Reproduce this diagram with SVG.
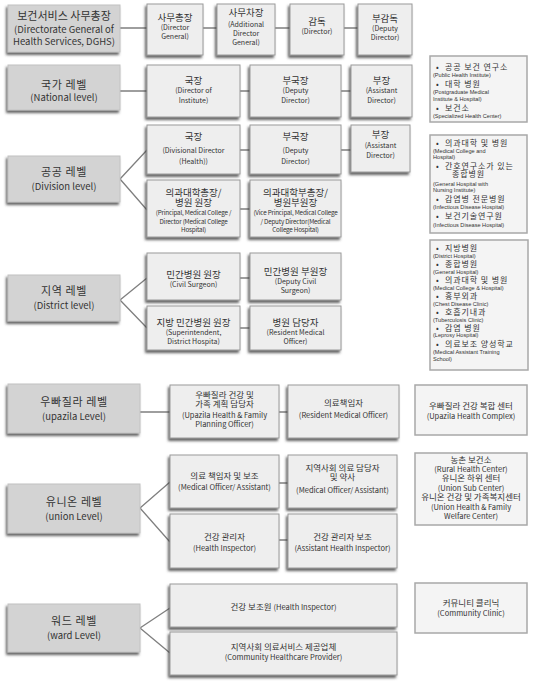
<svg xmlns="http://www.w3.org/2000/svg" width="534" height="681" viewBox="0 0 534 681">
<defs>
<filter id="sh" x="-10%" y="-10%" width="120%" height="130%">
<feDropShadow dx="-1.5" dy="2.5" stdDeviation="1" flood-color="#3a3a3a" flood-opacity="0.8"/>
</filter>
<style>
.lv{fill:#d3d3d3;stroke:#c2c2c2;stroke-width:1;filter:url(#sh)}
.bx{fill:#eeeeee;stroke:#9a9a9a;stroke-width:1;filter:url(#sh)}
.ib{fill:#f4f4f4;stroke:#a8a8a8;stroke-width:1.5}
text{font-family:"Noto Sans CJK KR","Noto Sans",sans-serif;fill:#333;text-anchor:middle}
.L{text-anchor:start}
.lk{font-size:11px;letter-spacing:0.6px}
.le{font-size:9.5px}
.k10{font-size:9.5px}
.k9{font-size:8.5px}
.e7{font-size:7px}
.e65{font-size:6.3px;letter-spacing:-0.2px}
.e75{font-size:7.5px}
.ik{font-size:8px;letter-spacing:0.9px}
.ie{font-family:"Liberation Sans",Arial,sans-serif;font-size:5.6px}
.cn{stroke:#7f7f7f;stroke-width:1.3;fill:none}
</style>
</defs>
<g id="connectors">
<path class="cn" d="M120 28H147M203 28H217M275 28H290M344 28H358"/>
<path class="cn" d="M120 91H147M240 91H250M341 91H351"/>
<path class="cn" d="M120 179L147 150M120 179L147 210M240 150H250M341 150H351M240 209H250"/>
<path class="cn" d="M120 300L147 278M120 300L147 328M240 278H250M240 328H250"/>
<path class="cn" d="M140 412H170M279 412H288"/>
<path class="cn" d="M140 508L170 482M140 508L170 542M279 483H288M279 540H288"/>
<path class="cn" d="M140 628L170 608M140 628L170 653"/>
</g>
<g id="dghs"><rect class="lv" x="8" y="5" width="112" height="47"/>
<text class="lk" x="64" y="20" style="letter-spacing:0">보건서비스 사무총장</text>
<text class="le" x="64" y="33">(Directorate General of</text>
<text class="le" x="64" y="45">Health Services, DGHS)</text></g>
<g id="dg"><rect class="bx" x="147" y="4" width="56" height="51"/>
<text class="k10" x="175" y="21">사무총장</text><text class="e7" x="175" y="30">(Director</text><text class="e7" x="175" y="39">General)</text></g>
<g id="adg"><rect class="bx" x="217" y="4" width="58" height="51"/>
<text class="k10" x="246" y="16">사무차장</text><text class="e7" x="246" y="27">(Additional</text><text class="e7" x="246" y="36">Director</text><text class="e7" x="246" y="45">General)</text></g>
<g id="dir"><rect class="bx" x="290" y="4" width="54" height="51"/>
<text class="k10" x="317" y="25">감독</text><text class="e7" x="317" y="34">(Director)</text></g>
<g id="ddir"><rect class="bx" x="358" y="4" width="54" height="51"/>
<text class="k10" x="385" y="22">부감독</text><text class="e7" x="385" y="31">(Deputy</text><text class="e7" x="385" y="40">Director)</text></g>

<g id="national"><rect class="lv" x="8" y="65" width="112" height="45"/>
<text class="lk" x="64" y="89">국가 레벨</text><text class="le" x="64" y="101">(National level)</text></g>
<g id="n-dir"><rect class="bx" x="147" y="65" width="93" height="52"/>
<text class="k10" x="193.5" y="84">국장</text><text class="e7" x="193.5" y="93">(Director of</text><text class="e7" x="193.5" y="102.5">Institute)</text></g>
<g id="n-ddir"><rect class="bx" x="250" y="65" width="91" height="52"/>
<text class="k10" x="295.5" y="84">부국장</text><text class="e7" x="295.5" y="93">(Deputy</text><text class="e7" x="295.5" y="102.5">Director)</text></g>
<g id="n-adir"><rect class="bx" x="351" y="65" width="61" height="52"/>
<text class="k10" x="381.5" y="84">부장</text><text class="e7" x="381.5" y="93">(Assistant</text><text class="e7" x="381.5" y="102.5">Director)</text></g>
<g id="n-info"><rect class="ib" x="430" y="56" width="97" height="66"/>
<text class="ik L" x="436" y="69.5">•<tspan x="445">공공 보건 연구소</tspan></text>
<text class="ie L" x="433" y="77">(Public Health Institute)</text>
<text class="ik L" x="436" y="87">•<tspan x="445">대학 병원</tspan></text>
<text class="ie L" x="433" y="94">(Postgraduate Medical</text>
<text class="ie L" x="433" y="101">Institute &amp; Hospital)</text>
<text class="ik L" x="436" y="110.5">•<tspan x="445">보건소</tspan></text>
<text class="ie L" x="433" y="118">(Specialized Health Center)</text></g>

<g id="division"><rect class="lv" x="8" y="156" width="112" height="46"/>
<text class="lk" x="64" y="176">공공 레벨</text><text class="le" x="64" y="190">(Division level)</text></g>
<g id="d-dir"><rect class="bx" x="147" y="125" width="93" height="49"/>
<text class="k10" x="193.5" y="139.5">국장</text><text class="e7" x="193.5" y="152.5">(Divisional Director</text><text class="e7" x="193.5" y="164">(Health))</text></g>
<g id="d-ddir"><rect class="bx" x="250" y="125" width="91" height="49"/>
<text class="k10" x="295.5" y="139.5">부국장</text><text class="e7" x="295.5" y="152.5">(Deputy</text><text class="e7" x="295.5" y="164">Director)</text></g>
<g id="d-adir"><rect class="bx" x="351" y="125" width="59" height="47"/>
<text class="k10" x="380.5" y="138">부장</text><text class="e7" x="380.5" y="147.5">(Assistant</text><text class="e7" x="380.5" y="157.5">Director)</text></g>
<g id="d-principal"><rect class="bx" x="147" y="180" width="93" height="57"/>
<text class="k10" x="193.5" y="195.5">의과대학총장/</text><text class="k10" x="193.5" y="206">병원 원장</text>
<text class="e65" x="193.5" y="214.5">(Principal, Medical College /</text><text class="e65" x="193.5" y="223.5">Director (Medical College</text><text class="e65" x="193.5" y="232">Hospital)</text></g>
<g id="d-vice"><rect class="bx" x="250" y="180" width="91" height="57"/>
<text class="k10" x="295.5" y="195.5">의과대학부총장/</text><text class="k10" x="295.5" y="206">병원부원장</text>
<text class="e65" x="295.5" y="214.5">(Vice Principal, Medical College</text><text class="e65" x="295.5" y="223.5">/ Deputy Director(Medical</text><text class="e65" x="295.5" y="232">College Hospital)</text></g>
<g id="d-info"><rect class="ib" x="430" y="135" width="97" height="98"/>
<text class="ik L" x="436" y="145.5">•<tspan x="445">의과대학 및 병원</tspan></text>
<text class="ie L" x="433" y="152.5">(Medical College and</text>
<text class="ie L" x="433" y="159">Hospital)</text>
<text class="ik L" x="436" y="168.5">•<tspan x="445">간호연구소가 있는</tspan></text>
<text class="ik L" x="452" y="177">종합병원</text>
<text class="ie L" x="433" y="185.5">(General Hospital with</text>
<text class="ie L" x="433" y="192">Nursing Institute)</text>
<text class="ik L" x="436" y="201.5">•<tspan x="445">감염병 전문병원</tspan></text>
<text class="ie L" x="433" y="209">(Infectious Disease Hospital)</text>
<text class="ik L" x="436" y="219">•<tspan x="445">보건기술연구원</tspan></text>
<text class="ie L" x="433" y="226.5">(Infectious Disease Hospital)</text></g>

<g id="district"><rect class="lv" x="8" y="275" width="112" height="46"/>
<text class="lk" x="64" y="295">지역 레벨</text><text class="le" x="64" y="309">(District level)</text></g>
<g id="civil"><rect class="bx" x="147" y="253" width="93" height="47"/>
<text class="k10" x="193.5" y="277.5">민간병원 원장</text><text class="e7" x="193.5" y="287">(Civil Surgeon)</text></g>
<g id="dcivil"><rect class="bx" x="250" y="253" width="91" height="47"/>
<text class="k10" x="295.5" y="274.5">민간병원 부원장</text><text class="e7" x="295.5" y="284">(Deputy Civil</text><text class="e7" x="295.5" y="293">Surgeon)</text></g>
<g id="super"><rect class="bx" x="147" y="306" width="93" height="44"/>
<text class="k10" x="193.5" y="325.5">지방 민간병원 원장</text><text class="e7" x="193.5" y="335">(Superintendent,</text><text class="e7" x="193.5" y="344">District Hospita)</text></g>
<g id="rmo"><rect class="bx" x="250" y="306" width="91" height="44"/>
<text class="k10" x="295.5" y="325.5">병원 담당자</text><text class="e7" x="295.5" y="335">(Resident Medical</text><text class="e7" x="295.5" y="344">Officer)</text></g>
<g id="dist-info"><rect class="ib" x="430" y="240" width="98" height="130"/>
<text class="ik L" x="436" y="251">•<tspan x="445">지방병원</tspan></text>
<text class="ie L" x="433" y="258">(District Hospital)</text>
<text class="ik L" x="436" y="267">•<tspan x="445">종합병원</tspan></text>
<text class="ie L" x="433" y="274">(General Hospital)</text>
<text class="ik L" x="436" y="283">•<tspan x="445">의과대학 및 병원</tspan></text>
<text class="ie L" x="433" y="289.5">(Medical College &amp; Hospital)</text>
<text class="ik L" x="436" y="299">•<tspan x="445">흉부외과</tspan></text>
<text class="ie L" x="433" y="305.5">(Chest Disease Clinic)</text>
<text class="ik L" x="436" y="315">•<tspan x="445">호흡기내과</tspan></text>
<text class="ie L" x="433" y="321.5">(Tuberculosis Clinic)</text>
<text class="ik L" x="436" y="330.5">•<tspan x="445">감염 병원</tspan></text>
<text class="ie L" x="433" y="337">(Leprosy Hospital)</text>
<text class="ik L" x="436" y="346.5">•<tspan x="445">의료보조 양성학교</tspan></text>
<text class="ie L" x="433" y="354">(Medical Assistant Training</text>
<text class="ie L" x="433" y="360.5">School)</text></g>

<g id="upazila"><rect class="lv" x="8" y="384" width="132" height="49"/>
<text class="lk" x="74" y="406">우빠질라 레벨</text><text class="le" x="74" y="420">(upazila Level)</text></g>
<g id="uhfpo"><rect class="bx" x="170" y="385" width="109" height="53"/>
<text class="k9" x="224.5" y="398">우빠질라 건강 및</text><text class="k9" x="224.5" y="406.5">가족 계획 담당자</text>
<text class="e75" x="224.5" y="418">(Upazila Health &amp; Family</text><text class="e75" x="224.5" y="426.5">Planning Officer)</text></g>
<g id="u-rmo"><rect class="bx" x="288" y="385" width="111" height="53"/>
<text class="k9" x="343.5" y="406">의료책임자</text><text class="e75" x="343.5" y="418">(Resident Medical Officer)</text></g>
<g id="u-info"><rect class="ib" x="415" y="385" width="112" height="50"/>
<text class="k9" x="471" y="409">우빠질라 건강 복합 센터</text><text class="e75" x="471" y="419">(Upazila Health Complex)</text></g>

<g id="union"><rect class="lv" x="8" y="484" width="132" height="49"/>
<text class="lk" x="74" y="506">유니온 레벨</text><text class="le" x="74" y="520">(union Level)</text></g>
<g id="mo"><rect class="bx" x="170" y="455" width="109" height="53"/>
<text class="k9" x="224.5" y="479">의료 책임자 및 보조</text><text class="e75" x="224.5" y="489.5">(Medical Officer/ Assistant)</text></g>
<g id="cmo"><rect class="bx" x="288" y="455" width="109" height="53"/>
<text class="k9" x="342.5" y="470.5">지역사회 의료 담당자</text><text class="k9" x="342.5" y="480">및 약사</text><text class="e75" x="342.5" y="492.5">(Medical Officer/ Assistant)</text></g>
<g id="hi"><rect class="bx" x="170" y="514" width="109" height="54"/>
<text class="k9" x="224.5" y="540">건강 관리자</text><text class="e75" x="224.5" y="550.5">(Health Inspector)</text></g>
<g id="ahi"><rect class="bx" x="288" y="514" width="109" height="54"/>
<text class="k9" x="342.5" y="540">건강 관리자 보조</text><text class="e75" x="342.5" y="550.5">(Assistant Health Inspector)</text></g>
<g id="un-info"><rect class="ib" x="415" y="453" width="112" height="72"/>
<text class="k9" x="471" y="463">농촌 보건소</text>
<text class="e75" x="471" y="472">(Rural Health Center)</text>
<text class="k9" x="471" y="481">유니온 하위 센터</text>
<text class="e75" x="471" y="491">(Union Sub Center)</text>
<text class="k9" x="471" y="500">유니온 건강 및 가족복지센터</text>
<text class="e75" x="471" y="510">(Union Health &amp; Family</text>
<text class="e75" x="471" y="519">Welfare Center)</text></g>

<g id="ward"><rect class="lv" x="8" y="604" width="132" height="48"/>
<text class="lk" x="74" y="625">워드 레벨</text><text class="le" x="74" y="639">(ward Level)</text></g>
<g id="ha"><rect class="bx" x="170" y="584" width="227" height="43"/>
<text class="k9" x="283.5" y="610">건강 보조원 <tspan class="e75">(Health Inspector)</tspan></text></g>
<g id="chcp"><rect class="bx" x="170" y="632" width="227" height="43"/>
<text class="k9" x="283.5" y="650">지역사회 의료서비스 제공업체</text><text class="e75" x="283.5" y="659.5">(Community Healthcare Provider)</text></g>
<g id="w-info"><rect class="ib" x="415" y="583" width="112" height="50"/>
<text class="k9" x="471" y="606">커뮤니티 클리닉</text><text class="e75" x="471" y="616">(Community Clinic)</text></g>
</svg>
